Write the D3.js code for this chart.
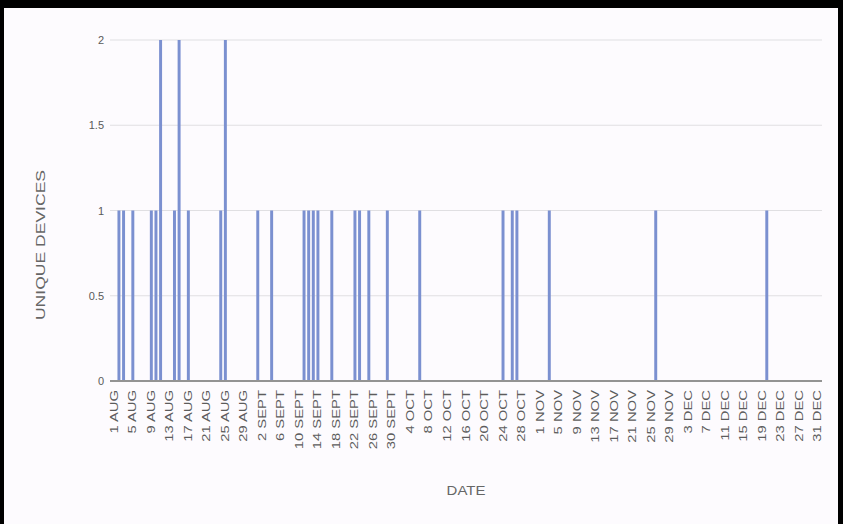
<!DOCTYPE html>
<html>
<head>
<meta charset="utf-8">
<script src="https://cdn.jsdelivr.net/npm/d3@7"></script>
<style>
  html, body { margin: 0; padding: 0; background: #000; }
  svg { display: block; }
  text { font-family: "Liberation Sans", Arial, sans-serif; }
</style>
</head>
<body>
<svg id="chart" width="843" height="524"></svg>
<script>
// Calendar span shown on the x axis
const monthNames = ["AUG", "SEPT", "OCT", "NOV", "DEC"];
const monthLengths = [31, 30, 31, 30, 31];

// Days with at least one device seen, and how many
const activeDays = [
  "2 AUG", "3 AUG", "5 AUG", "9 AUG", "10 AUG", "11 AUG", "14 AUG", "15 AUG",
  "17 AUG", "24 AUG", "25 AUG", "1 SEPT", "4 SEPT", "11 SEPT", "12 SEPT",
  "13 SEPT", "14 SEPT", "17 SEPT", "22 SEPT", "23 SEPT", "25 SEPT", "29 SEPT",
  "6 OCT", "24 OCT", "26 OCT", "27 OCT", "3 NOV", "26 NOV", "20 DEC"
];
const deviceCounts = [
  1, 1, 1, 1, 1, 2, 1, 2,
  1, 1, 2, 1, 1, 1, 1,
  1, 1, 1, 1, 1, 1, 1,
  1, 1, 1, 1, 1, 1, 1
];

// Axis labels
const tickLabels = [
  "1 AUG", "5 AUG", "9 AUG", "13 AUG", "17 AUG", "21 AUG", "25 AUG", "29 AUG",
  "2 SEPT", "6 SEPT", "10 SEPT", "14 SEPT", "18 SEPT", "22 SEPT", "26 SEPT", "30 SEPT",
  "4 OCT", "8 OCT", "12 OCT", "16 OCT", "20 OCT", "24 OCT", "28 OCT",
  "1 NOV", "5 NOV", "9 NOV", "13 NOV", "17 NOV", "21 NOV", "25 NOV", "29 NOV",
  "3 DEC", "7 DEC", "11 DEC", "15 DEC", "19 DEC", "23 DEC", "27 DEC", "31 DEC"
];
const yTicks = [0, 0.5, 1, 1.5, 2];
const xTitle = "DATE";
const yTitle = "UNIQUE DEVICES";

// Every calendar day is a category; days without activity count as 0
const days = monthNames.flatMap((m, i) => d3.range(1, monthLengths[i] + 1).map(d => d + " " + m));
const countByDay = new Map(activeDays.map((d, i) => [d, deviceCounts[i]]));
const series = days.map(d => ({ day: d, value: countByDay.get(d) || 0 }));

const svg = d3.select("#chart");
const W = 843, H = 524;
const plot = { left: 110, right: 822, top: 40, bottom: 381 };
const labelStretch = 1.48; // date labels are drawn tall along their reading direction
const titleStretch = 1.35;

// White card on a dark frame
svg.append("rect").attr("x", 0).attr("y", 0).attr("width", W).attr("height", H).attr("fill", "#000");
svg.append("rect").attr("x", 4).attr("y", 8).attr("width", 834).attr("height", 516).attr("fill", "#fdfbfe");

const x = d3.scaleBand().domain(days).range([plot.left + 2, plot.right - 2]).paddingInner(0.36).paddingOuter(0.18);
const y = d3.scaleLinear().domain([0, 2]).range([plot.bottom, plot.top]);

// Horizontal gridlines
svg.append("g")
  .selectAll("line")
  .data(yTicks.filter(t => t > 0))
  .join("line")
  .attr("x1", plot.left).attr("x2", plot.right)
  .attr("y1", d => y(d)).attr("y2", d => y(d))
  .attr("stroke", "#e0dfe2").attr("stroke-width", 1.2);

// Y axis labels
const yAxis = svg.append("g")
  .attr("transform", `translate(${plot.left},0)`)
  .call(d3.axisLeft(y).tickValues(yTicks).tickSize(0).tickPadding(6).tickFormat(d3.format("")));
yAxis.select(".domain").remove();
yAxis.selectAll("text").attr("fill", "#5a5a5a").style("font-size", "11px");

// Bars
svg.append("g")
  .selectAll("rect")
  .data(series.filter(d => d.value > 0))
  .join("rect")
  .attr("x", d => x(d.day))
  .attr("width", x.bandwidth())
  .attr("y", d => y(d.value))
  .attr("height", d => y(0) - y(d.value))
  .attr("fill", "#7b90d0");

// X axis with rotated date labels
const xAxis = svg.append("g")
  .attr("transform", `translate(0,${plot.bottom})`)
  .call(d3.axisBottom(x).tickValues(tickLabels).tickSize(0));
xAxis.select(".domain").remove();
xAxis.selectAll("text")
  .attr("transform", `rotate(-90) scale(${labelStretch},1)`)
  .attr("x", -9 / labelStretch).attr("y", 0).attr("dy", "0.35em")
  .attr("text-anchor", "end")
  .attr("fill", "#5c5c5c")
  .style("font-size", "10px");

// Baseline
svg.append("line")
  .attr("x1", plot.left).attr("x2", plot.right)
  .attr("y1", y(0)).attr("y2", y(0))
  .attr("stroke", "#939393").attr("stroke-width", 2);

// Axis titles
svg.append("text")
  .attr("transform", `translate(${(plot.left + plot.right) / 2},495) scale(1.15,1)`)
  .attr("text-anchor", "middle")
  .attr("fill", "#666").style("font-size", "13px")
  .text(xTitle);

svg.append("text")
  .attr("transform", `translate(45,245) rotate(-90) scale(${titleStretch},1)`)
  .attr("text-anchor", "middle")
  .attr("fill", "#666").style("font-size", "13px")
  .text(yTitle);
</script>
</body>
</html>
